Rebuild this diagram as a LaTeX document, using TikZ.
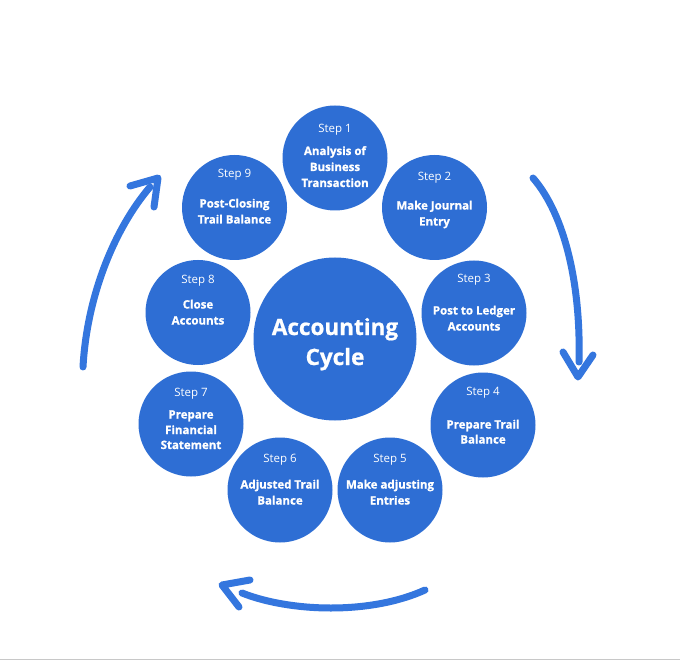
\documentclass[tikz,border=0pt]{standalone}
\usepackage{fontspec}
\setmainfont{Open Sans}[BoldFeatures={FakeBold=0.8}]
\definecolor{cblue}{RGB}{46,110,212}
\definecolor{ablue}{RGB}{52,118,222}
\definecolor{rulegray}{RGB}{200,200,200}
\begin{document}
\begin{tikzpicture}[x=1pt,y=-1pt,
  stepcircle/.style={circle, fill=cblue, minimum size=105pt, inner sep=0pt},
  hubcircle/.style={circle, fill=cblue, minimum size=163pt, inner sep=0pt},
  steplabel/.style={anchor=base, text=white, inner sep=0pt, font=\fontsize{11.5}{14}\selectfont},
  steptext/.style={anchor=base, text=white, inner sep=0pt, font=\bfseries\fontsize{11.5}{14}\selectfont},
  hubtext/.style={anchor=base, text=white, inner sep=0pt, font=\bfseries\fontsize{22.5}{27}\selectfont},
  arrowline/.style={draw=ablue, line width=7pt, line cap=round, line join=round}]
\useasboundingbox (0,0) rectangle (680,660);
\fill[white] (0,0) rectangle (680,660);
\fill[rulegray] (0,658.6) rectangle (680,660);

% circles
\node[hubcircle] (hub) at (335,339) {};
\node[stepcircle] (s1) at (335,158) {};
\node[stepcircle] (s2) at (434.5,207.5) {};
\node[stepcircle] (s3) at (474,313) {};
\node[stepcircle] (s4) at (483,425) {};
\node[stepcircle] (s5) at (390,490) {};
\node[stepcircle] (s6) at (280,490) {};
\node[stepcircle] (s7) at (191,424) {};
\node[stepcircle] (s8) at (198,312.5) {};
\node[stepcircle] (s9) at (234.5,207.5) {};

% hub text
\node[hubtext] (h1) at (335,335) {Accounting};
\node[hubtext] (h2) at (335,365) {Cycle};

% step 1
\node[steplabel] (l1) at (335,133) {Step 1};
\node[steptext] (t1a) at (335,155) {Analysis of};
\node[steptext] (t1b) at (335,171) {Business};
\node[steptext] (t1c) at (335,187) {Transaction};
% step 2
\node[steplabel] (l2) at (434.5,180.5) {Step 2};
\node[steptext] (t2a) at (434.5,209.5) {Make Journal};
\node[steptext] (t2b) at (434.5,225.5) {Entry};
% step 3
\node[steplabel] (l3) at (474,282.5) {Step 3};
\node[steptext] (t3a) at (474,314.5) {Post to Ledger};
\node[steptext] (t3b) at (474,330.5) {Accounts};
% step 4
\node[steplabel] (l4) at (483,395.5) {Step 4};
\node[steptext] (t4a) at (483,428.5) {Prepare Trail};
\node[steptext] (t4b) at (483,443.5) {Balance};
% step 5
\node[steplabel] (l5) at (390,462) {Step 5};
\node[steptext] (t5a) at (390,488.5) {Make adjusting};
\node[steptext] (t5b) at (390,504.5) {Entries};
% step 6
\node[steplabel] (l6) at (280,462) {Step 6};
\node[steptext] (t6a) at (280,488.5) {Adjusted Trail};
\node[steptext] (t6b) at (280,504.5) {Balance};
% step 7
\node[steplabel] (l7) at (191,396) {Step 7};
\node[steptext] (t7a) at (191,418.5) {Prepare};
\node[steptext] (t7b) at (191,434) {Financial};
\node[steptext] (t7c) at (191,449) {Statement};
% step 8
\node[steplabel] (l8) at (198,283.5) {Step 8};
\node[steptext] (t8a) at (198,308.5) {Close};
\node[steptext] (t8b) at (198,324.5) {Accounts};
% step 9
\node[steplabel] (l9) at (234.5,177.5) {Step 9};
\node[steptext] (t9a) at (234.5,207.5) {Post-Closing};
\node[steptext] (t9b) at (234.5,223.5) {Trail Balance};

% left arrow
\coordinate (la0) at (83,367);
\coordinate (la1) at (150,187);
\coordinate (latip) at (158,178);
\coordinate (laarm1) at (130,186);
\coordinate (laarm2) at (154,207);
\draw[arrowline] (la0) .. controls (87,295) and (115,228) .. (la1);
\draw[arrowline] (laarm1) -- (latip) -- (laarm2);

% right arrow
\coordinate (ra0) at (533,178);
\coordinate (ra1) at (579,362);
\coordinate (ratip) at (578,377);
\coordinate (raarm1) at (563,352);
\coordinate (raarm2) at (593,355);
\draw[arrowline] (ra0) .. controls (565,215) and (581,285) .. (ra1);
\draw[arrowline] (raarm1) -- (ratip) -- (raarm2);

% bottom arrow
\coordinate (ba0) at (425,590);
\coordinate (ba1) at (242,593);
\coordinate (batip) at (222,585);
\coordinate (baarm1) at (250,580);
\coordinate (baarm2) at (239,607);
\draw[arrowline] (ba0) .. controls (370,615) and (290,612) .. (ba1);
\draw[arrowline] (baarm1) -- (batip) -- (baarm2);
\end{tikzpicture}
\end{document}
